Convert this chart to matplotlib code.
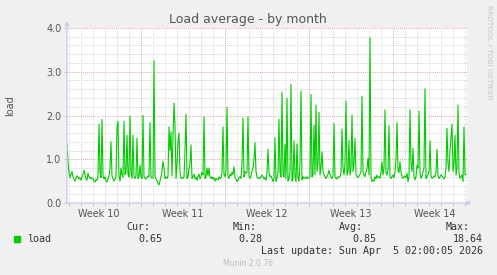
import numpy as np
import matplotlib
matplotlib.use("Agg")
import matplotlib.pyplot as plt
from matplotlib.transforms import blended_transform_factory

# ---------------- data (2-hour samples, hours relative to start of week 11) ----------------
start_hour = -148
step_hours = 2
load = [
    1.35, 0.95, 0.70, 0.58, 0.65, 0.72, 0.60, 0.55, 0.50, 0.56, 0.62, 0.60,
    0.55, 0.58, 0.52, 0.60, 0.66, 0.75, 0.65, 0.55, 0.52, 0.68, 0.60, 0.56,
    0.58, 0.55, 0.56, 0.50, 0.48, 0.54, 0.52, 0.60, 1.80, 0.70, 0.58, 1.91,
    0.62, 0.55, 0.60, 0.50, 0.48, 0.55, 0.62, 0.80, 1.40, 0.62, 0.55, 0.50,
    0.55, 0.60, 1.73, 1.87, 0.60, 0.50, 0.80, 0.65, 0.60, 1.87, 0.65, 0.70,
    1.55, 0.65, 0.60, 1.99, 0.70, 0.56, 1.55, 0.60, 0.56, 0.62, 1.48, 0.56,
    0.60, 0.87, 0.60, 0.56, 2.00, 0.60, 0.56, 0.55, 0.58, 0.62, 0.60, 1.84,
    0.60, 0.56, 0.58, 3.25, 0.60, 0.55, 0.52, 0.45, 0.41, 0.50, 0.60, 0.72,
    0.95, 0.80, 0.56, 0.60, 0.56, 0.62, 1.74, 1.20, 1.63, 0.62, 1.50, 2.28,
    1.78, 0.56, 0.90, 1.40, 1.60, 0.70, 0.56, 0.58, 0.56, 0.60, 1.20, 2.03,
    0.56, 0.60, 0.80, 0.90, 1.33, 0.56, 0.60, 0.66, 0.55, 0.58, 0.52, 0.60,
    0.66, 0.55, 0.60, 0.70, 0.65, 1.97, 0.56, 0.60, 0.80, 0.62, 0.80, 0.60,
    0.56, 0.60, 0.55, 0.58, 0.50, 0.56, 0.55, 0.52, 0.60, 0.55, 0.58, 0.70,
    1.74, 0.65, 0.60, 0.75, 2.19, 0.60, 0.56, 0.66, 0.62, 0.70, 0.65, 0.83,
    0.60, 0.55, 0.49, 0.52, 0.58, 0.60, 0.56, 0.90, 1.94, 0.60, 0.72, 0.68,
    0.70, 1.97, 0.60, 0.56, 0.62, 0.72, 0.80, 1.00, 1.38, 0.72, 0.60, 0.56,
    0.58, 0.56, 0.60, 0.64, 0.60, 0.55, 0.58, 0.52, 0.70, 1.23, 0.70, 0.60,
    0.62, 0.56, 0.49, 0.55, 1.50, 0.50, 0.56, 0.70, 1.91, 0.70, 0.60, 2.53,
    0.65, 0.60, 1.34, 0.56, 2.39, 0.50, 0.56, 0.70, 2.71, 0.50, 0.56, 1.42,
    0.60, 0.49, 1.35, 0.60, 0.50, 0.90, 2.56, 0.53, 0.60, 0.56, 0.58, 0.56,
    0.60, 0.56, 0.58, 0.62, 2.48, 0.60, 0.65, 1.78, 0.65, 2.24, 0.72, 0.90,
    2.07, 0.64, 0.80, 1.17, 0.72, 0.65, 0.60, 0.56, 0.60, 0.66, 0.75, 0.65,
    0.60, 0.56, 0.62, 1.82, 0.60, 0.56, 0.55, 0.60, 0.58, 0.60, 0.70, 1.69,
    0.80, 0.64, 0.90, 2.33, 0.64, 0.70, 1.43, 0.64, 0.80, 2.01, 0.72, 0.90,
    1.48, 0.64, 0.60, 0.58, 0.62, 0.65, 0.72, 2.44, 0.70, 0.64, 0.60, 0.72,
    0.80, 1.02, 0.64, 3.78, 0.60, 0.49, 0.53, 0.50, 0.60, 0.55, 0.64, 0.58,
    0.60, 0.56, 0.70, 0.94, 0.64, 0.80, 2.13, 0.70, 0.64, 0.75, 1.77, 0.60,
    0.56, 0.60, 0.64, 0.58, 0.70, 1.00, 1.84, 0.72, 0.70, 0.94, 0.70, 0.60,
    0.56, 0.60, 0.62, 0.58, 0.68, 0.49, 0.60, 2.13, 0.90, 0.72, 1.25, 0.60,
    0.53, 0.60, 0.87, 0.80, 2.10, 0.70, 0.56, 0.62, 0.72, 0.80, 2.61, 0.56,
    0.60, 0.65, 0.72, 1.42, 0.62, 0.56, 0.58, 0.62, 0.60, 0.70, 1.23, 0.62,
    0.56, 0.60, 0.64, 0.62, 0.58, 0.55, 0.60, 0.80, 1.71, 0.90, 0.72, 1.20,
    1.50, 1.80, 0.72, 0.90, 1.55, 0.64, 0.80, 2.24, 0.70, 0.56, 0.60, 0.64,
    0.49, 1.74, 0.64, 0.65,
]
week_labels = ["Week 10", "Week 11", "Week 12", "Week 13", "Week 14"]
week_bounds = [0, 168, 336, 504]           # hours: starts of weeks 11..14
y_ticks = [0.0, 1.0, 2.0, 3.0, 4.0]
legend_name = "load"
stat_heads = ["Cur:", "Min:", "Avg:", "Max:"]
stat_vals = ["0.65", "0.28", "0.85", "18.64"]
last_update = "Last update: Sun Apr  5 02:00:05 2026"

x = start_hour + step_hours * np.arange(len(load))

# ---------------- figure ----------------
W, H = 497, 275
fig = plt.figure(figsize=(W / 100, H / 100), dpi=100, facecolor="#F0F0F0")
ax = fig.add_axes([67 / W, 1 - 203 / H, 400 / W, 175 / H])
ax.set_facecolor("white")
ax.set_xlim(start_hour, start_hour + 800)
ax.set_ylim(0, 4.0)

minor_col = "#D6D6D6"
major_col = "#E3AAAA"
dot = (0, (1, 1))
for yv in np.arange(0.2, 4.01, 0.2):
    if abs(yv - round(yv)) > 1e-6:
        ax.axhline(yv, color=minor_col, lw=0.7, ls=dot, zorder=1)
for d in range(-144, 660, 24):
    if d not in week_bounds:
        ax.axvline(d, color=minor_col, lw=0.7, ls=dot, zorder=1)
for yv in y_ticks[1:]:
    ax.axhline(yv, color=major_col, lw=0.7, ls=dot, zorder=1.5)
for b in week_bounds:
    ax.axvline(b, color=major_col, lw=0.7, ls=dot, zorder=1.5)

ax.plot(x, load, color="#00CC00", lw=0.8, zorder=3, antialiased=True)

for s in ax.spines.values():
    s.set_visible(False)
axis_col = "#C8C8F0"
ax.annotate("", xy=(0, 1.04), xytext=(0, 0), xycoords="axes fraction",
            arrowprops=dict(arrowstyle="-|>", color=axis_col, lw=0.9,
                            mutation_scale=6, shrinkA=0, shrinkB=0), zorder=4)
ax.annotate("", xy=(1.012, 0), xytext=(0, 0), xycoords="axes fraction",
            arrowprops=dict(arrowstyle="-|>", color=axis_col, lw=0.9,
                            mutation_scale=6, shrinkA=0, shrinkB=0), zorder=4)

txt_col = "#555555"
ax.set_yticks(y_ticks)
ax.set_yticklabels([f"{v:.1f}" for v in y_ticks])
ax.tick_params(axis="y", length=2, width=0.6, color="#BBBBBB", pad=2,
               labelsize=6.9, labelcolor=txt_col)
ax.set_xticks(range(-144, 660, 24))
ax.set_xticklabels([])
ax.tick_params(axis="x", length=2, width=0.6, color="#BBBBBB")

centers = [b - 84 for b in week_bounds] + [week_bounds[-1] + 84]
trans = blended_transform_factory(ax.transData, fig.transFigure)
for c, lab in zip(centers, week_labels):
    fig.text(c, 1 - 214 / H, lab, transform=trans, ha="center", va="center",
             fontsize=6.9, color=txt_col)

fig.text(248 / W, 1 - 19 / H, "Load average - by month", ha="center",
         va="center", fontsize=9, color=txt_col)
fig.text(10 / W, 1 - 106 / H, "load", rotation=90, ha="center", va="center",
         fontsize=7, color=txt_col)
fig.text(489 / W, 1 - 5 / H, "RRDTOOL / TOBI OETIKER", rotation=270,
         ha="center", va="top", fontsize=5.3, color="#C4C4C4")

mono = "DejaVu Sans Mono"
fs = 7.2
fig.patches.append(plt.Rectangle((14 / W, 1 - 242 / H), 6 / W, 6 / H,
                                 transform=fig.transFigure, color="#00CC00"))
fig.text(27 / W, 1 - 239 / H, legend_name, ha="left", va="center",
         family=mono, fontsize=fs, color="#333333")
head_x = [150, 257, 363, 470]
val_x = [162, 262, 376, 483]
for hx, vx, hd, v in zip(head_x, val_x, stat_heads, stat_vals):
    fig.text(hx / W, 1 - 227 / H, hd, ha="right", va="center",
             family=mono, fontsize=fs, color="#333333")
    fig.text(vx / W, 1 - 239 / H, v, ha="right", va="center",
             family=mono, fontsize=fs, color="#333333")
fig.text(483 / W, 1 - 251 / H, last_update, ha="right", va="center",
         family=mono, fontsize=fs, color="#333333")
fig.text(248 / W, 1 - 264 / H, "Munin 2.0.76", ha="center", va="center",
         fontsize=5.5, color="#BBBBBB")

fig.savefig("out.png", dpi=100, facecolor=fig.get_facecolor())
